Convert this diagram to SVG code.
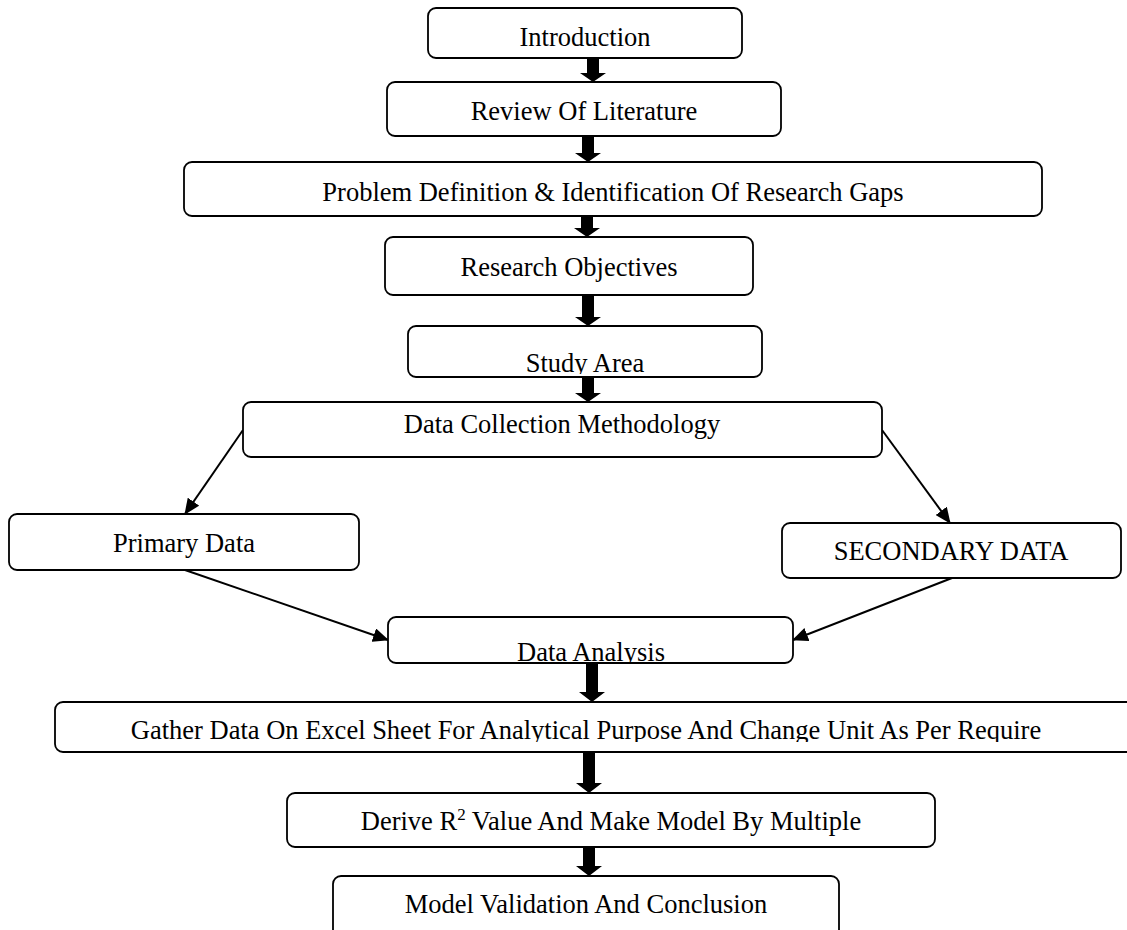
<svg xmlns="http://www.w3.org/2000/svg" width="1127" height="930" viewBox="0 0 1127 930">
<style>
.box{fill:#fff;stroke:#000;stroke-width:1.8}
.t{font-family:'Liberation Serif','Times New Roman',serif;font-size:26.5px;fill:#000;text-anchor:middle}
.ln{stroke:#000;stroke-width:2;fill:none}
.blk{fill:#000}
</style>
<defs>
<marker id="ah" markerUnits="userSpaceOnUse" markerWidth="16" markerHeight="14" refX="15" refY="7" orient="auto">
<path d="M0,0 L16,7 L0,14 Z" fill="#000"/>
</marker>
<clipPath id="cStudy"><rect x="408" y="326" width="354" height="48"/></clipPath>
<clipPath id="cDA"><rect x="388" y="617" width="405" height="45"/></clipPath>
<clipPath id="cGather"><rect x="55" y="702" width="1072" height="40"/></clipPath>
</defs>
<g id="connectors">
<path class="blk" d="M587,58 H599 V73 H606 L593,82 L580,73 H587 Z"/>
<path class="blk" d="M582,136 H594 V153 H601 L588,162 L575,153 H582 Z"/>
<path class="blk" d="M581,216 H593 V228 H600 L587,237 L574,228 H581 Z"/>
<path class="blk" d="M582,295 H594 V317 H601 L588,326 L575,317 H582 Z"/>
<path class="blk" d="M582,377 H594 V393 H601 L588,402 L575,393 H582 Z"/>
<path class="blk" d="M586,663 H598 V692 H605 L592,702 L579,692 H586 Z"/>
<path class="blk" d="M583,753 H595 V783 H602 L589,793 L576,783 H583 Z"/>
<path class="blk" d="M583,847 H595 V866 H602 L589,876 L576,866 H583 Z"/>
<line class="ln" x1="243" y1="430" x2="185" y2="514" marker-end="url(#ah)"/>
<line class="ln" x1="882" y1="430" x2="950" y2="523" marker-end="url(#ah)"/>
<line class="ln" x1="185" y1="570" x2="388" y2="640" marker-end="url(#ah)"/>
<line class="ln" x1="952" y1="578" x2="793" y2="640" marker-end="url(#ah)"/>
</g>
<g id="introduction">
<rect class="box" x="428" y="8" width="314" height="50" rx="8"/>
<text class="t" x="585" y="46">Introduction</text>
</g>
<g id="review">
<rect class="box" x="387" y="82" width="394" height="54" rx="8"/>
<text class="t" x="584" y="120">Review Of Literature</text>
</g>
<g id="problem">
<rect class="box" x="184" y="162" width="858" height="54" rx="8"/>
<text class="t" x="613" y="201">Problem Definition &amp; Identification Of Research Gaps</text>
</g>
<g id="objectives">
<rect class="box" x="385" y="237" width="368" height="58" rx="8"/>
<text class="t" x="569" y="276">Research Objectives</text>
</g>
<g id="study">
<rect class="box" x="408" y="326" width="354" height="51" rx="8"/>
<text class="t" x="585" y="372" clip-path="url(#cStudy)">Study Area</text>
</g>
<g id="datacollection">
<rect class="box" x="243" y="402" width="639" height="55" rx="8"/>
<text class="t" x="562" y="433">Data Collection Methodology</text>
</g>
<g id="primary">
<rect class="box" x="9" y="514" width="350" height="56" rx="8"/>
<text class="t" x="184" y="552">Primary Data</text>
</g>
<g id="secondary">
<rect class="box" x="782" y="523" width="339" height="55" rx="8"/>
<text class="t" x="951" y="560">SECONDARY DATA</text>
</g>
<g id="analysis">
<rect class="box" x="388" y="617" width="405" height="46" rx="8"/>
<text class="t" x="591" y="661" clip-path="url(#cDA)">Data Analysis</text>
</g>
<g id="gather">
<rect class="box" x="55" y="702" width="1090" height="50" rx="8"/>
<text class="t" x="586" y="739" clip-path="url(#cGather)">Gather Data On Excel Sheet For Analytical Purpose And Change Unit As Per Require</text>
</g>
<g id="derive">
<rect class="box" x="287" y="793" width="648" height="54" rx="8"/>
<text class="t" x="611" y="830">Derive R<tspan font-size="17" dy="-10">2</tspan><tspan dy="10"> Value And Make Model By Multiple</tspan></text>
</g>
<g id="validation">
<rect class="box" x="333" y="876" width="506" height="70" rx="8"/>
<text class="t" x="586" y="913">Model Validation And Conclusion</text>
</g>
</svg>
